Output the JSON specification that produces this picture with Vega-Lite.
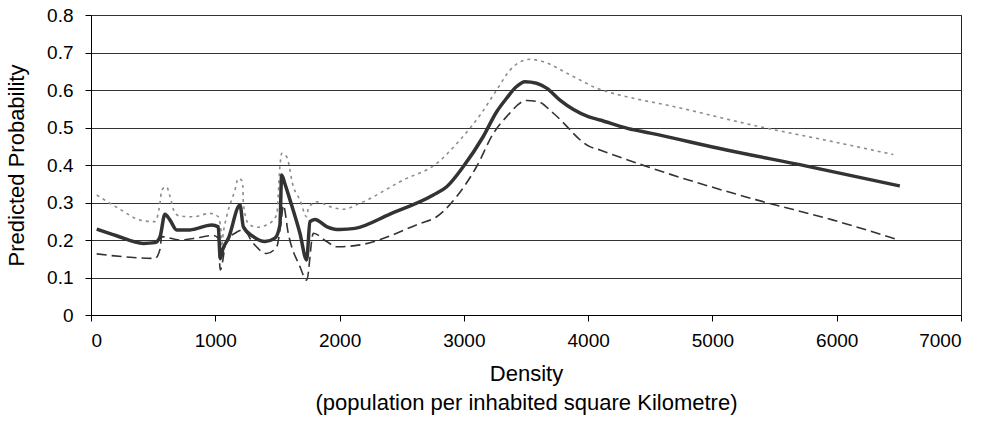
{
  "$schema": "https://vega.github.io/schema/vega-lite/v6.json",
  "autosize": "none",
  "width": 870,
  "height": 300,
  "padding": {"left": 91, "top": 15, "right": 28, "bottom": 112},
  "datasets": {
    "mid": [
      {"Density": 46, "p": 0.229}, {"Density": 200, "p": 0.212}, {"Density": 421, "p": 0.191},
      {"Density": 515, "p": 0.193}, {"Density": 555, "p": 0.208}, {"Density": 595, "p": 0.269},
      {"Density": 636, "p": 0.253}, {"Density": 689, "p": 0.227}, {"Density": 796, "p": 0.227},
      {"Density": 971, "p": 0.24}, {"Density": 1024, "p": 0.235}, {"Density": 1040, "p": 0.15},
      {"Density": 1060, "p": 0.175}, {"Density": 1105, "p": 0.204}, {"Density": 1199, "p": 0.293},
      {"Density": 1226, "p": 0.235}, {"Density": 1306, "p": 0.209}, {"Density": 1400, "p": 0.196},
      {"Density": 1480, "p": 0.205}, {"Density": 1520, "p": 0.24}, {"Density": 1534, "p": 0.373},
      {"Density": 1560, "p": 0.35}, {"Density": 1601, "p": 0.307}, {"Density": 1681, "p": 0.218},
      {"Density": 1735, "p": 0.147}, {"Density": 1762, "p": 0.249}, {"Density": 1802, "p": 0.255},
      {"Density": 1900, "p": 0.235}, {"Density": 1976, "p": 0.228}, {"Density": 2003, "p": 0.228},
      {"Density": 2124, "p": 0.231}, {"Density": 2405, "p": 0.269}, {"Density": 2754, "p": 0.32},
      {"Density": 2862, "p": 0.342}, {"Density": 2996, "p": 0.396}, {"Density": 3156, "p": 0.476},
      {"Density": 3264, "p": 0.542}, {"Density": 3344, "p": 0.578}, {"Density": 3420, "p": 0.608},
      {"Density": 3492, "p": 0.622}, {"Density": 3585, "p": 0.618}, {"Density": 3666, "p": 0.605},
      {"Density": 3773, "p": 0.573}, {"Density": 4001, "p": 0.529}, {"Density": 4095, "p": 0.52},
      {"Density": 4323, "p": 0.497}, {"Density": 4500, "p": 0.485}, {"Density": 5114, "p": 0.44},
      {"Density": 5758, "p": 0.397}, {"Density": 6508, "p": 0.344}
    ],
    "upper": [
      {"Density": 46, "p": 0.32}, {"Density": 233, "p": 0.282}, {"Density": 407, "p": 0.252},
      {"Density": 515, "p": 0.249}, {"Density": 555, "p": 0.298}, {"Density": 569, "p": 0.333},
      {"Density": 608, "p": 0.342}, {"Density": 636, "p": 0.316}, {"Density": 676, "p": 0.271},
      {"Density": 716, "p": 0.264}, {"Density": 823, "p": 0.262}, {"Density": 957, "p": 0.271},
      {"Density": 1024, "p": 0.262}, {"Density": 1045, "p": 0.227}, {"Density": 1051, "p": 0.182},
      {"Density": 1065, "p": 0.22}, {"Density": 1091, "p": 0.262}, {"Density": 1158, "p": 0.333},
      {"Density": 1185, "p": 0.364}, {"Density": 1220, "p": 0.356}, {"Density": 1226, "p": 0.298},
      {"Density": 1266, "p": 0.244}, {"Density": 1333, "p": 0.234}, {"Density": 1413, "p": 0.24},
      {"Density": 1494, "p": 0.267}, {"Density": 1520, "p": 0.396}, {"Density": 1534, "p": 0.431},
      {"Density": 1574, "p": 0.422}, {"Density": 1628, "p": 0.342}, {"Density": 1681, "p": 0.307},
      {"Density": 1735, "p": 0.262}, {"Density": 1748, "p": 0.284}, {"Density": 1816, "p": 0.302},
      {"Density": 1923, "p": 0.289}, {"Density": 2030, "p": 0.282}, {"Density": 2164, "p": 0.298},
      {"Density": 2512, "p": 0.36}, {"Density": 2781, "p": 0.404}, {"Density": 2969, "p": 0.467},
      {"Density": 3130, "p": 0.533}, {"Density": 3264, "p": 0.6}, {"Density": 3371, "p": 0.653},
      {"Density": 3532, "p": 0.682}, {"Density": 3612, "p": 0.678}, {"Density": 3880, "p": 0.636},
      {"Density": 4068, "p": 0.605}, {"Density": 4149, "p": 0.596}, {"Density": 4363, "p": 0.578},
      {"Density": 4631, "p": 0.56}, {"Density": 5382, "p": 0.502}, {"Density": 5972, "p": 0.462},
      {"Density": 6455, "p": 0.428}
    ],
    "lower": [
      {"Density": 46, "p": 0.163}, {"Density": 314, "p": 0.154}, {"Density": 515, "p": 0.151},
      {"Density": 555, "p": 0.175}, {"Density": 569, "p": 0.209}, {"Density": 716, "p": 0.2},
      {"Density": 823, "p": 0.204}, {"Density": 984, "p": 0.212}, {"Density": 1024, "p": 0.205},
      {"Density": 1040, "p": 0.12}, {"Density": 1091, "p": 0.2}, {"Density": 1158, "p": 0.218},
      {"Density": 1226, "p": 0.227}, {"Density": 1306, "p": 0.191}, {"Density": 1413, "p": 0.164},
      {"Density": 1494, "p": 0.182}, {"Density": 1534, "p": 0.262}, {"Density": 1547, "p": 0.293},
      {"Density": 1587, "p": 0.218}, {"Density": 1681, "p": 0.129}, {"Density": 1735, "p": 0.093},
      {"Density": 1789, "p": 0.218}, {"Density": 1896, "p": 0.196}, {"Density": 1976, "p": 0.182},
      {"Density": 2003, "p": 0.182}, {"Density": 2164, "p": 0.187}, {"Density": 2647, "p": 0.244},
      {"Density": 2781, "p": 0.262}, {"Density": 2942, "p": 0.316}, {"Density": 3103, "p": 0.396},
      {"Density": 3237, "p": 0.484}, {"Density": 3344, "p": 0.529}, {"Density": 3505, "p": 0.572},
      {"Density": 3599, "p": 0.569}, {"Density": 3720, "p": 0.538}, {"Density": 4014, "p": 0.449},
      {"Density": 4095, "p": 0.44}, {"Density": 4229, "p": 0.424}, {"Density": 4471, "p": 0.396},
      {"Density": 5355, "p": 0.307}, {"Density": 5972, "p": 0.253}, {"Density": 6482, "p": 0.202}
    ]
  },
  "encoding": {
    "x": {
      "field": "Density",
      "type": "quantitative",
      "scale": {"domain": [0, 7000], "nice": false},
      "axis": {
        "values": [0, 1000, 2000, 3000, 4000, 5000, 6000, 7000],
        "format": "d",
        "grid": false,
        "title": ["Density", "(population per inhabited square Kilometre)"],
        "titlePadding": 13,
        "titleLineHeight": 29,
        "labelPadding": 10
      }
    },
    "y": {
      "field": "p",
      "type": "quantitative",
      "scale": {"domain": [0, 0.8], "nice": false},
      "axis": {
        "values": [0, 0.1, 0.2, 0.3, 0.4, 0.5, 0.6, 0.7, 0.8],
        "format": ".1~f",
        "grid": true,
        "title": "Predicted Probability",
        "titlePadding": 18,
        "labelPadding": 12
      }
    }
  },
  "layer": [
    {
      "data": {"name": "upper"},
      "mark": {"type": "line", "interpolate": "monotone", "color": "#8c8c8c", "strokeWidth": 1.6, "strokeDash": [3, 4]}
    },
    {
      "data": {"name": "lower"},
      "mark": {"type": "line", "interpolate": "monotone", "color": "#333333", "strokeWidth": 1.6, "strokeDash": [10, 5]}
    },
    {
      "data": {"name": "mid"},
      "mark": {"type": "line", "interpolate": "monotone", "color": "#333333", "strokeWidth": 3.5}
    }
  ],
  "config": {
    "font": "Liberation Sans",
    "view": {"stroke": "#222222", "strokeWidth": 1},
    "axis": {
      "labelFont": "Liberation Sans",
      "titleFont": "Liberation Sans",
      "labelFontSize": 19,
      "titleFontSize": 22,
      "titleFontWeight": "normal",
      "labelColor": "#000000",
      "titleColor": "#000000",
      "domainColor": "#000000",
      "tickColor": "#000000",
      "tickSize": 6,
      "gridColor": "#333333",
      "gridOpacity": 1,
      "gridWidth": 1
    }
  }
}
